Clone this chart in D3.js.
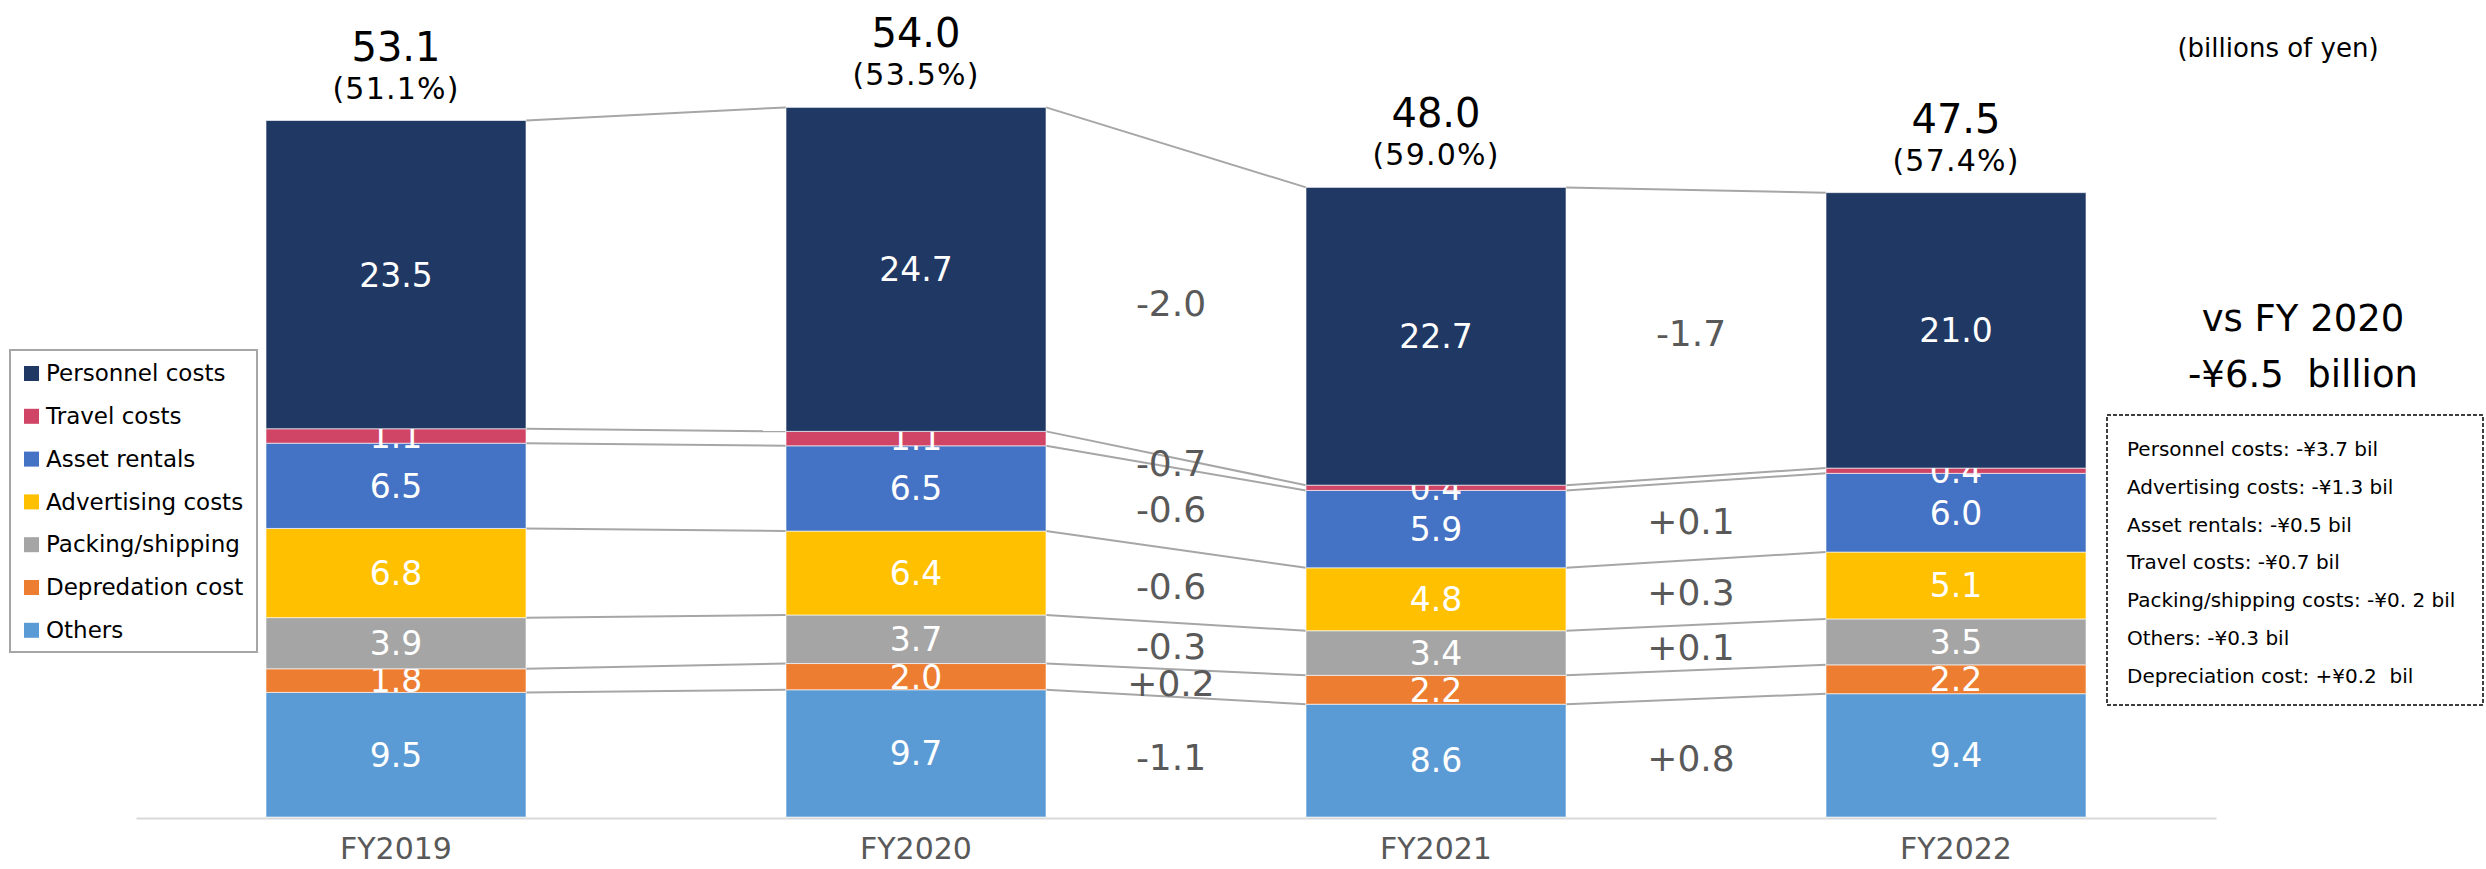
<!DOCTYPE html>
<meta charset="utf-8">
<style>
html,body{ margin:0; background:#fff; }
svg{ font-family: "DejaVu Sans", Verdana, sans-serif; }
.seglabel{ fill:#fff; font-size:33px; text-anchor:middle; }
.delta{ fill:#595959; font-size:36px; text-anchor:middle; }
.conn{ stroke:#a6a6a6; stroke-width:2px; fill:none; }
.xlab{ fill:#595959; font-size:30px; text-anchor:middle; }
</style>
<script src="https://cdn.jsdelivr.net/npm/d3@7"></script>
<body>
<script>

var width = 2486, height = 869;

// data
var years = ["FY2019", "FY2020", "FY2021", "FY2022"];
var legendNames = ["Personnel costs", "Travel costs", "Asset rentals", "Advertising costs", "Packing/shipping", "Depredation cost", "Others"];
var colors = ["#203864", "#d04466", "#4472c4", "#ffc000", "#a5a5a5", "#ed7d31", "#5b9bd5"];
var personnel   = [23.5, 24.7, 22.7, 21.0];
var travel      = [1.1, 1.1, 0.4, 0.4];
var assets      = [6.5, 6.5, 5.9, 6.0];
var advertising = [6.8, 6.4, 4.8, 5.1];
var packing     = [3.9, 3.7, 3.4, 3.5];
var depreciation= [1.8, 2.0, 2.2, 2.2];
var others      = [9.5, 9.7, 8.6, 9.4];
var totals = [53.1, 54.0, 48.0, 47.5];
var ratios = ["51.1%", "53.5%", "59.0%", "57.4%"];
// change labels between consecutive years (null = not shown), same order as legend
var deltas2021 = [-2.0, -0.7, -0.6, -0.6, -0.3, 0.2, -1.1];
var deltas2022 = [-1.7, null, 0.1, 0.3, 0.1, null, 0.8];
var summaryHead = ["vs FY 2020", "-¥6.5  billion"];
var summaryLines = ["Personnel costs: -¥3.7 bil", "Advertising costs: -¥1.3 bil", "Asset rentals: -¥0.5 bil",
  "Travel costs: -¥0.7 bil", "Packing/shipping costs: -¥0. 2 bil", "Others: -¥0.3 bil", "Depreciation cost: +¥0.2  bil"];

var series = [personnel, travel, assets, advertising, packing, depreciation, others];
var table = years.map(function(y, i){
  var row = {year: y};
  legendNames.forEach(function(n, k){ row[n] = series[k][i]; });
  return row;
});
// stack from bottom (Others) to top (Personnel)
var keys = legendNames.slice().reverse();
var stacked = d3.stack().keys(keys)(table);

var svg = d3.select("body").append("svg")
  .attr("width", width).attr("height", height);

var x = d3.scaleBand().domain(years).range([136, 2216]).paddingInner(0.5).paddingOuter(0.25);
var y = d3.scaleLinear().domain([0, 60]).range([817, 30]);
var bw = x.bandwidth();
var color = d3.scaleOrdinal().domain(legendNames).range(colors);

// connector lines between bars at each segment top
var conn = svg.append("g");
stacked.forEach(function(s){
  for (var i = 0; i < years.length - 1; i++) {
    conn.append("line").attr("class", "conn")
      .attr("x1", x(years[i]) + bw).attr("y1", y(s[i][1]))
      .attr("x2", x(years[i + 1])).attr("y2", y(s[i + 1][1]));
  }
});

// bars
var layer = svg.append("g").selectAll("g").data(stacked).enter().append("g")
  .attr("fill", function(d){ return color(d.key); });
layer.selectAll("rect").data(function(d){ return d; }).enter().append("rect")
  .attr("x", function(d){ return x(d.data.year); })
  .attr("y", function(d){ return y(d[1]); })
  .attr("width", bw)
  .attr("height", function(d){ return y(d[0]) - y(d[1]); })
  .attr("stroke", "rgba(255,255,255,0.6)").attr("stroke-width", 1);

layer.selectAll("text").data(function(d){ return d; }).enter().append("text")
  .attr("class", "seglabel")
  .attr("x", function(d){ return x(d.data.year) + bw / 2; })
  .attr("y", function(d){ return (y(d[0]) + y(d[1])) / 2; })
  .attr("dy", "0.36em")
  .text(function(d){ return (d[1] - d[0]).toFixed(1); });

// x axis
var axis = svg.append("g").attr("transform", "translate(0,818)")
  .call(d3.axisBottom(x).tickSize(0).tickPadding(20));
axis.select(".domain").attr("stroke", "#d9d9d9").attr("stroke-width", 2);
axis.attr("font-size", null).attr("font-family", null);
axis.selectAll("text").attr("class", "xlab").attr("fill", null);

// totals and ratios
var topLayer = stacked[stacked.length - 1];
svg.selectAll(".total").data(totals).enter().append("text")
  .attr("x", function(d, i){ return x(years[i]) + bw / 2; })
  .attr("y", function(d, i){ return y(topLayer[i][1]) - 60; })
  .attr("text-anchor", "middle").attr("font-size", 40).attr("fill", "#000")
  .text(function(d){ return d.toFixed(1); });
svg.selectAll(".ratio").data(ratios).enter().append("text")
  .attr("x", function(d, i){ return x(years[i]) + bw / 2; })
  .attr("y", function(d, i){ return y(topLayer[i][1]) - 22; })
  .attr("text-anchor", "middle").attr("font-size", 30).attr("letter-spacing", 1.2).attr("fill", "#000")
  .text(function(d){ return "(" + d + ")"; });

// change labels
function mid(s, i){ return (s[i][0] + s[i][1]) / 2; }
[deltas2021, deltas2022].forEach(function(ds, j){
  var a = j + 1, b = j + 2;
  var cx = (x(years[a]) + bw + x(years[b])) / 2 - 5;
  ds.forEach(function(v, k){
    if (v === null) return;
    var s = stacked[keys.indexOf(legendNames[k])];
    svg.append("text").attr("class", "delta")
      .attr("x", cx)
      .attr("y", y((mid(s, a) + mid(s, b)) / 2))
      .attr("dy", "0.36em")
      .text((v > 0 ? "+" : "") + v.toFixed(1));
  });
});

// legend
var lg = svg.append("g").attr("transform", "translate(10,350)");
lg.append("rect").attr("width", 247).attr("height", 302)
  .attr("fill", "#fff").attr("stroke", "#a6a6a6").attr("stroke-width", 2);
legendNames.forEach(function(n, i){
  var row = lg.append("g").attr("transform", "translate(0," + (23 + i * 42.8) + ")");
  row.append("rect").attr("x", 14).attr("y", -7).attr("width", 15).attr("height", 15).attr("fill", colors[i]);
  row.append("text").attr("x", 36).attr("dy", "0.36em").attr("font-size", 23).attr("fill", "#000").text(n);
});

// unit
svg.append("text").attr("x", 2278).attr("y", 57).attr("text-anchor", "middle")
  .attr("font-size", 26).attr("fill", "#000").text("(billions of yen)");

// summary
svg.selectAll(".head").data(summaryHead).enter().append("text")
  .attr("x", 2303).attr("y", function(d, i){ return 331 + i * 56; })
  .attr("text-anchor", "middle").attr("font-size", 37).attr("fill", "#000")
  .style("white-space", "pre")
  .text(function(d){ return d; });

svg.append("rect").attr("x", 2107).attr("y", 415).attr("width", 376).attr("height", 290)
  .attr("fill", "none").attr("stroke", "#000").attr("stroke-width", 1.5).attr("stroke-dasharray", "4,2");
svg.selectAll(".sum").data(summaryLines).enter().append("text")
  .attr("x", 2127).attr("y", function(d, i){ return 456 + i * 37.8; })
  .attr("font-size", 20).attr("fill", "#000")
  .style("white-space", "pre")
  .text(function(d){ return d; });

</script>
</body>
